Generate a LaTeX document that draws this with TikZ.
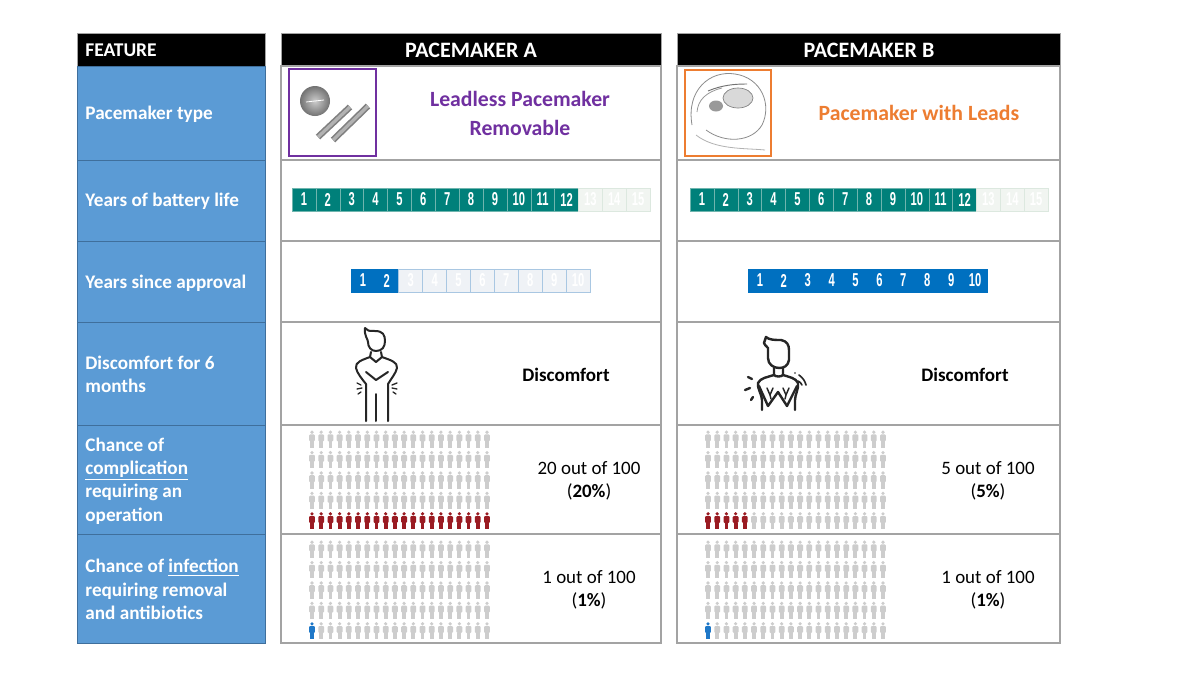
\documentclass[tikz,border=0pt]{standalone}
\usepackage{fontspec}
\setmainfont{Carlito}
\newfontfamily\barfont[FakeStretch=0.6]{Liberation Sans}
\usepackage{tikz}
\usetikzlibrary{positioning}
\usetikzlibrary{calc, shapes, backgrounds}
\definecolor{featblue}{HTML}{5B9BD5}
\definecolor{featedge}{HTML}{3F6F9C}
\definecolor{gridgray}{HTML}{A3A3A3}
\definecolor{leadpurple}{HTML}{7030A0}
\definecolor{leadorange}{HTML}{ED7D31}
\definecolor{barteal}{HTML}{00807A}
\definecolor{bartealedge}{HTML}{6FB5AE}
\definecolor{fadeteal}{HTML}{F1F5F1}
\definecolor{fadetealedge}{HTML}{DCE8DF}
\definecolor{barblue}{HTML}{0070C0}
\definecolor{fadeblue}{HTML}{EFF2F6}
\definecolor{fadeblueedge}{HTML}{A9C7E2}
\definecolor{persongray}{HTML}{CDCDCD}
\definecolor{personred}{HTML}{9A1B22}
\definecolor{personblue}{HTML}{1F78C8}
\begin{document}
\begin{tikzpicture}[x=0.75pt,y=-0.75pt,semithick]
 \tikzstyle{head node}=[text=white,font=\fontsize{16.5}{18}\selectfont\bfseries,inner sep=0]
 \tikzstyle{feature node}=[anchor=west,align=left,text=white,font=\fontsize{14.4}{17.5}\selectfont\bfseries,inner sep=0]
 \tikzstyle{big node}=[align=center,font=\fontsize{16.3}{21.7}\selectfont\bfseries,inner sep=0]
 \tikzstyle{plain node}=[align=center,font=\fontsize{14.2}{17.5}\selectfont,inner sep=0]
 \tikzstyle{word node}=[font=\fontsize{14.3}{16}\selectfont\bfseries,inner sep=0]
 \tikzstyle{feature cell}=[fill=featblue,draw=featedge,line width=0.6pt]
 \tikzstyle{grid cell}=[draw=gridgray,line width=0.9pt]
 \tikzstyle{icon line}=[line width=1.5pt,black!85,line cap=round,line join=round]
 \tikzset{
 	year cell/.style={rectangle,inner sep=0,minimum width=17.9pt,minimum height=17.25pt,text=white,font=\barfont\bfseries\fontsize{14}{14}\selectfont},
 	teal on/.style={year cell,fill=barteal,draw=bartealedge,line width=0.3pt},
 	teal off/.style={year cell,fill=fadeteal,draw=fadetealedge,line width=0.5pt},
 	blue on/.style={year cell,fill=barblue,draw=barblue,line width=0.3pt},
 	blue off/.style={year cell,fill=fadeblue,draw=fadeblueedge,line width=0.5pt},
 	pics/person/.style={code={
 		\fill[#1] (0,-6.8) circle (1.8);
 		\fill[#1,rounded corners=0.8pt] (-2.9,-4.6) rectangle (2.9,2.4);
 		\fill[#1] (-1.9,2) rectangle (1.9,8.8);
 	}}
 }
 \useasboundingbox (0,0) rectangle (1200,675);
 \fill[white] (0,0) rectangle (1200,675);

 % feature column
 \fill[black] (77,33) rectangle (265,66);
 \draw[gridgray,line width=0.6pt] (77,33) rectangle (265,66);
 \foreach \ya/\yb in {66/160,160/241,241/322,322/425,425/534,534/643}
   \draw[feature cell] (77,\ya) rectangle (265,\yb);

 % pacemaker columns
 \foreach \xa/\xb in {281/661,677/1060}{
   \fill[black] (\xa,33) rectangle (\xb,66);
   \draw[gridgray,line width=0.6pt] (\xa,33) rectangle (\xb,66);
   \foreach \ya/\yb in {66/160,160/241,241/322,322/425,425/534,534/643}
     \draw[grid cell] (\xa,\ya) rectangle (\xb,\yb);
 }

 \node[head node,anchor=west,font=\fontsize{14.6}{18}\selectfont\bfseries] (feat) at (85,50) {FEATURE};
 \node[head node] (headA) at (471,50.5) {PACEMAKER A};
 \node[head node] (headB) at (869,50.5) {PACEMAKER B};

 \node[feature node] (ftype) at (85,114) {Pacemaker type};
 \node[feature node] (fbatt) at (85,201) {Years of battery life};
 \node[feature node] (fappr) at (85,283) {Years since approval};
 \node[feature node] (fdisc) at (85,374) {Discomfort for 6\\months};
 \node[feature node] (fcomp) at (85,481) {Chance of\\\underline{complication}\\requiring an\\operation};
 \node[feature node] (finf) at (85,589.5) {Chance of \underline{infection}\\requiring removal\\and antibiotics};

 % pacemaker type
 \draw[leadpurple,line width=1.7pt] (289,69) rectangle (376,156);
 \draw[leadorange,line width=1.9pt] (685,70) rectangle (771,156);
 \node[big node,text=leadpurple] (typeA) at (520,113) {Leadless Pacemaker\\Removable};
 \node[big node,text=leadorange] (typeB) at (919,113) {Pacemaker with Leads};

 % coin and capsules
 \shade[inner color=black!20,outer color=black!55] (315,101) circle (15);
 \draw[white,line width=0.6pt] (306,102) -- (324,100);
 \foreach \xa/\ya/\xb/\yb in {318/137/350/107,333/140/368/106}{
   \draw[black!50,line width=4.8pt] (\xa,\ya) -- (\xb,\yb);
   \draw[black!30,line width=2.4pt] (\xa,\ya) -- (\xb,\yb);
 }

 % leads and generator
 \draw[black!45,line width=0.6pt] (692,125) .. controls (686,90) and (710,70) .. (735,74) .. controls (762,78) and (772,105) .. (762,125) .. controls (752,142) and (725,144) .. (706,130);
 \draw[black!30,line width=0.6pt] (696,135) .. controls (715,150) and (745,148) .. (765,150);
 \draw[black!55,line width=0.7pt] (708,91) .. controls (722,85) and (735,84) .. (747,84);
 \draw[black!40,line width=0.6pt] (697,112) .. controls (698,100) and (706,92) .. (722,88);
 \draw[black!50,line width=0.5pt,fill=black!15] (738,98) ellipse (15 and 10);
 \fill[black!40] (716,106) ellipse (7 and 5.5);

 % battery life bars
 \foreach \n in {1,...,15}{
   \ifnum\n<13
     \node[teal on] (battA\n) at ({292+23.87*(\n-0.5)},199.5) {\n};
     \node[teal on] (battB\n) at ({690+23.87*(\n-0.5)},199.5) {\n};
   \else
     \node[teal off] (battA\n) at ({292+23.87*(\n-0.5)},199.5) {\n};
     \node[teal off] (battB\n) at ({690+23.87*(\n-0.5)},199.5) {\n};
   \fi
 }

 % approval bars
 \foreach \n in {1,...,10}{
   \ifnum\n<3
     \node[blue on] (apprA\n) at ({351+23.9*(\n-0.5)},280.5) {\n};
   \else
     \node[blue off] (apprA\n) at ({351+23.9*(\n-0.5)},280.5) {\n};
   \fi
   \node[blue on] (apprB\n) at ({748+23.9*(\n-0.5)},280.5) {\n};
 }

 % man with arms crossed
 \draw[icon line] (365,328) .. controls (367,331) and (369,331) .. (375,331) .. controls (383,331) and (385,335) .. (385,341) .. controls (385,347) and (382,351) .. (376,351) .. controls (371,351) and (368,347) .. (368,342) .. controls (368,339) and (364,336) .. (365,328);
 \draw[icon line] (371,352) -- (370,357) -- (376,362) -- (382,357) -- (381,352);
 \draw[icon line] (370,357) .. controls (362,360) and (355,362) .. (356,368) .. controls (357,373) and (362,379) .. (366,384) -- (366,421);
 \draw[icon line] (382,357) .. controls (390,360) and (398,362) .. (397,368) .. controls (396,373) and (391,379) .. (388,384) -- (388,421);
 \draw[icon line] (366,372) -- (376,380) -- (388,372);
 \draw[icon line] (376,394) -- (376,421);
 \foreach \xa/\ya/\xb/\yb in {357/383/361/385,357/389/362/388,358/394/361/392,392/385/397/383,392/388/397/389,393/392/396/394}
   \draw[icon line,line width=1pt] (\xa,\ya) -- (\xb,\yb);
 \node[word node] (discA) at (566,375) {Discomfort};

 % man with sore shoulder
 \draw[icon line,line width=1.8pt] (766,337) .. controls (769,340) and (775,340) .. (781,340) .. controls (787,341) and (789,345) .. (789,350) -- (789,360) .. controls (788,366) and (784,368) .. (779,368) .. controls (773,368) and (768,364) .. (768,358) -- (768,348) .. controls (766,346) and (764,344) .. (764,343) -- cycle;
 \draw[icon line,line width=1.8pt] (774,368) -- (774,375) .. controls (776,377) and (781,377) .. (783,375) -- (783,368);
 \draw[icon line,line width=1.8pt] (774,375) .. controls (768,377) and (760,378) .. (758,383) .. controls (757,388) and (762,395) .. (762,400) -- (762,410);
 \draw[icon line,line width=1.8pt] (783,375) .. controls (789,377) and (796,378) .. (798,383) .. controls (799,388) and (795,395) .. (795,400) -- (795,410);
 \draw[icon line,line width=1.8pt] (759,386) -- (768,406) -- (778,392) -- (787,406) -- (797,386);
 \draw[icon line,line width=1.1pt] (767,388) -- (770,395) -- (773,388) (770,395) -- (771,399);
 \draw[icon line,line width=1.1pt] (783,388) -- (786,395) -- (789,388) (786,395) -- (785,399);
 \foreach \xa/\ya/\xb/\yb in {748/377/752/379,745/390/750/388,751/400/753/397}
   \draw[icon line,line width=1.8pt] (\xa,\ya) -- (\xb,\yb);
 \draw[icon line,line width=1.2pt] (799,375) .. controls (803,378) and (805,381) .. (806,385);
 \draw[icon line,line width=1.2pt] (798,381) .. controls (800,382) and (801,383) .. (802,385);
 \fill[black!85] (795,373) circle (0.9);
 \node[word node] (discB) at (965,375) {Discomfort};

 % people panels: left edge / first row / number marked / colour
 \foreach \px/\py/\nmark/\col in {312/439/20/personred,708/439/5/personred,312/549/1/personblue,708/549/1/personblue}{
   \foreach \c in {0,...,19}{
     \foreach \r in {0,...,3}
       \pic at ({\px+9.21*\c},{\py+20.4*\r}) {person=persongray};
     \ifnum\c<\nmark
       \pic at ({\px+9.21*\c},{\py+81.6}) {person=\col};
     \else
       \pic at ({\px+9.21*\c},{\py+81.6}) {person=persongray};
     \fi
   }
 }

 \node[plain node] (compA) at (589,481) {20 out of 100\\(\textbf{20\%})};
 \node[plain node] (compB) at (988,481) {5 out of 100\\(\textbf{5\%})};
 \node[plain node] (infA) at (589,589.5) {1 out of 100\\(\textbf{1\%})};
 \node[plain node] (infB) at (988,589.5) {1 out of 100\\(\textbf{1\%})};
\end{tikzpicture}
\end{document}
